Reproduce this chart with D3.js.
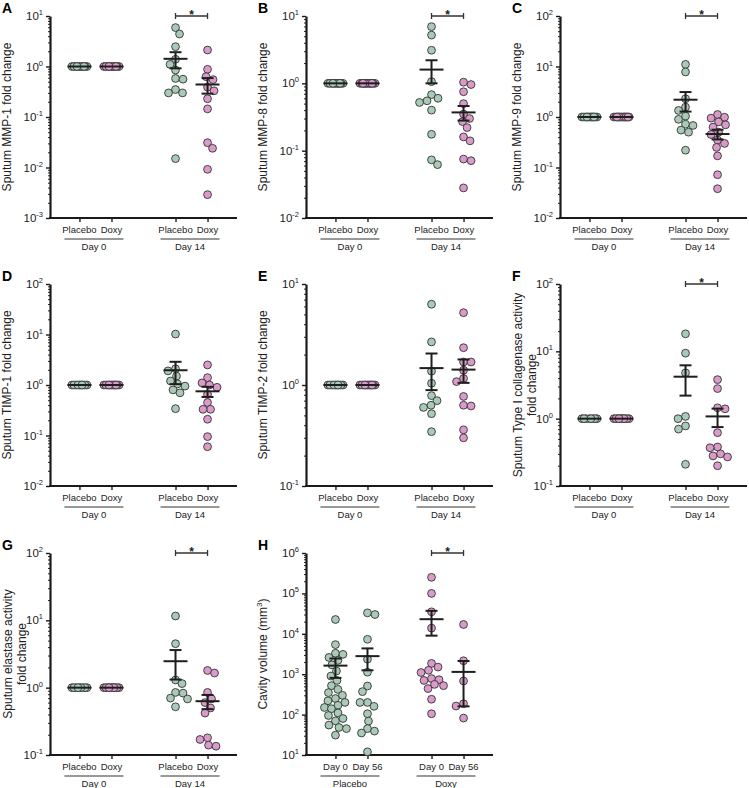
<!DOCTYPE html>
<html>
<head>
<meta charset="utf-8">
<script src="https://cdn.jsdelivr.net/npm/d3@7"></script>
<style>
  body { margin: 0; background: #fff; }
  svg text { font-family: "Liberation Sans", Arial, Helvetica, sans-serif; fill: #222; }
</style>
</head>
<body>
<svg id="chart" width="749" height="788"></svg>
<script>
// categories
const dayCats = ['Placebo', 'Doxy', 'Placebo', 'Doxy'];
const dayGroups = ['Day 0', 'Day 14'];
const cavCats = ['Day 0', 'Day 56', 'Day 0', 'Day 56'];
const cavGroups = ['Placebo', 'Doxy'];

const green = '#a9cab6';
const pink = '#da9bca';

// A - MMP-1
const mmp1 = [
  [1, 1, 1, 1, 1, 1, 1, 1, 1, 1, 1, 1],
  [1, 1, 1, 1, 1, 1, 1, 1, 1, 1, 1, 1],
  [5.9, 4.4, 2.47, 1.39, 1.1, 0.85, 0.58, 0.56, 0.35, 0.30, 0.30, 0.015],
  [2.12, 0.88, 0.63, 0.55, 0.39, 0.33, 0.23, 0.145, 0.031, 0.024, 0.0092, 0.0029]
];
const mmp1Mean = [1, 1, 1.42, 0.44];
const mmp1Sem = [0, 0, 0.5, 0.15];

// B - MMP-8
const mmp8 = [
  [1, 1, 1, 1, 1, 1, 1, 1, 1, 1, 1, 1],
  [1, 1, 1, 1, 1, 1, 1, 1, 1, 1, 1, 1, 1],
  [6.95, 5.2, 3.1, 1.06, 0.68, 0.6, 0.55, 0.52, 0.40, 0.175, 0.073, 0.062],
  [1.04, 0.96, 0.75, 0.5, 0.35, 0.3, 0.27, 0.22, 0.16, 0.14, 0.075, 0.071, 0.028]
];
const mmp8Mean = [1, 1, 1.6, 0.37];
const mmp8Sem = [0, 0, 0.6, 0.09];

// C - MMP-9
const mmp9 = [
  [1, 1, 1, 1, 1, 1, 1, 1, 1, 1, 1, 1],
  [1, 1, 1, 1, 1, 1, 1, 1, 1, 1, 1, 1, 1, 1],
  [11, 7.8, 2.3, 1.57, 1.35, 1.04, 0.9, 0.72, 0.68, 0.55, 0.5, 0.22],
  [1.12, 0.99, 0.95, 0.8, 0.7, 0.63, 0.5, 0.45, 0.35, 0.3, 0.25, 0.17, 0.072, 0.038]
];
const mmp9Mean = [1, 1, 2.2, 0.46];
const mmp9Sem = [0, 0, 0.92, 0.1];

// D - TIMP-1
const timp1 = [
  [1, 1, 1, 1, 1, 1, 1, 1, 1, 1],
  [1, 1, 1, 1, 1, 1, 1, 1, 1, 1, 1, 1],
  [10.2, 2.1, 1.9, 1.5, 1.2, 1.05, 0.95, 0.8, 0.7, 0.34],
  [2.5, 1.4, 1.1, 1.0, 0.9, 0.65, 0.45, 0.33, 0.33, 0.21, 0.095, 0.06]
];
const timp1Mean = [1, 1, 1.96, 0.75];
const timp1Sem = [0, 0, 0.92, 0.17];

// E - TIMP-2
const timp2 = [
  [1, 1, 1, 1, 1, 1, 1, 1, 1, 1],
  [1, 1, 1, 1, 1, 1, 1, 1, 1, 1, 1, 1],
  [6.3, 2.67, 1.37, 1.04, 0.785, 0.7, 0.63, 0.6, 0.52, 0.345],
  [5.2, 2.34, 1.69, 1.69, 1.4, 1.16, 1.08, 0.77, 0.63, 0.62, 0.36, 0.30]
];
const timp2Mean = [1, 1, 1.47, 1.42];
const timp2Sem = [0, 0, 0.58, 0.37];

// F - collagenase activity
const coll = [
  [1, 1, 1, 1, 1, 1, 1, 1],
  [1, 1, 1, 1, 1, 1, 1, 1, 1, 1, 1],
  [18.2, 9.4, 4.8, 1.08, 1.0, 0.78, 0.7, 0.21],
  [3.8, 2.8, 1.45, 1.4, 0.62, 0.38, 0.37, 0.3, 0.28, 0.27, 0.2]
];
const collMean = [1, 1, 4.2, 1.08];
const collSem = [0, 0, 2.0, 0.33];

// G - elastase activity
const elas = [
  [1, 1, 1, 1, 1, 1, 1, 1, 1],
  [1, 1, 1, 1, 1, 1, 1, 1, 1, 1, 1],
  [11.6, 4.5, 1.3, 1.15, 0.85, 0.83, 0.7, 0.68, 0.52],
  [1.8, 1.65, 0.85, 0.68, 0.6, 0.5, 0.42, 0.18, 0.17, 0.14, 0.135]
];
const elasMean = [1, 1, 2.47, 0.63];
const elasSem = [0, 0, 1.15, 0.15];

// H - cavity volume
const cavity = [
  [22600, 5400, 3300, 3100, 2600, 2200, 1700, 1200, 900, 700, 520, 420, 350, 300,
   250, 220, 200, 170, 150, 140, 110, 95, 80, 70, 55, 48, 45, 31],
  [33000, 30000, 7300, 2350, 1120, 510, 370, 200, 200, 160, 105, 69, 45, 39, 35, 12],
  [250000, 100000, 35000, 13800, 1850, 1500, 1250, 1100, 780, 730, 700, 560, 520, 440, 240, 105],
  [17000, 2150, 680, 186, 163, 82]
];
const cavityMean = [1630, 2800, 23000, 1140];
const cavitySem = [820, 1550, 14000, 980];

const panels = [
  { id: 'A', col: 0, row: 0, title: ['Sputum MMP-1 fold change'], domain: [1e-3, 10], vals: mmp1, mean: mmp1Mean, sem: mmp1Sem, cats: dayCats, groups: dayGroups, colors: [green, pink, green, pink], sig: true },
  { id: 'B', col: 1, row: 0, title: ['Sputum MMP-8 fold change'], domain: [1e-2, 10], vals: mmp8, mean: mmp8Mean, sem: mmp8Sem, cats: dayCats, groups: dayGroups, colors: [green, pink, green, pink], sig: true },
  { id: 'C', col: 2, row: 0, title: ['Sputum MMP-9 fold change'], domain: [1e-2, 100], vals: mmp9, mean: mmp9Mean, sem: mmp9Sem, cats: dayCats, groups: dayGroups, colors: [green, pink, green, pink], sig: true },
  { id: 'D', col: 0, row: 1, title: ['Sputum TIMP-1 fold change'], domain: [1e-2, 100], vals: timp1, mean: timp1Mean, sem: timp1Sem, cats: dayCats, groups: dayGroups, colors: [green, pink, green, pink], sig: false },
  { id: 'E', col: 1, row: 1, title: ['Sputum TIMP-2 fold change'], domain: [0.1, 10], vals: timp2, mean: timp2Mean, sem: timp2Sem, cats: dayCats, groups: dayGroups, colors: [green, pink, green, pink], sig: false },
  { id: 'F', col: 2, row: 1, title: ['Sputum Type I collagenase activity', 'fold change'], domain: [0.1, 100], vals: coll, mean: collMean, sem: collSem, cats: dayCats, groups: dayGroups, colors: [green, pink, green, pink], sig: true },
  { id: 'G', col: 0, row: 2, title: ['Sputum elastase activity', 'fold change'], domain: [0.1, 100], vals: elas, mean: elasMean, sem: elasSem, cats: dayCats, groups: dayGroups, colors: [green, pink, green, pink], sig: true },
  { id: 'H', col: 1, row: 2, title: ['Cavity volume (mm', '3', ')'], domain: [10, 1e6], vals: cavity, mean: cavityMean, sem: cavitySem, cats: cavCats, groups: cavGroups, colors: [green, green, pink, pink], sig: true, cavity: true }
];

// layout
const colX = [50, 306, 560];
const rowTop = [16, 284, 553];
const plotH = 202;
const axisLen = 187;
const R = 3.9;

const svg = d3.select('#chart');

// simple dodge so points at similar y spread sideways, capped at maxW
function swarm(vals, y, cx, maxW) {
  const idx = d3.range(vals.length).sort((a, b) => d3.descending(vals[a], vals[b]));
  const cands = d3.range(-maxW, maxW + 0.01, 0.5).sort((a, b) => Math.abs(a) - Math.abs(b) || a - b);
  const placed = [];
  const out = [];
  idx.forEach((i, n) => {
    const py = y(vals[i]);
    let best = 0, bestD = -1;
    for (const c0 of cands) {
      const c = n % 2 ? -c0 : c0;
      const dd = placed.length ? d3.min(placed, q => Math.hypot(q[0] - c, q[1] - py)) : Infinity;
      if (dd >= 2 * R * 0.95) { best = c; bestD = dd; break; }
      if (dd > bestD) { bestD = dd; best = c; }
    }
    placed.push([best, py]);
    out.push({ v: vals[i], x: cx + best, y: py });
  });
  return out;
}

panels.forEach(p => {
  const ax = colX[p.col];
  const top = rowTop[p.row];
  const bottom = top + plotH;
  const g = svg.append('g');

  const y = d3.scaleLog().domain(p.domain).range([bottom, top]);
  const x = d3.scalePoint().domain(['0', '1', 'gap', '2', '3']).range([ax, ax + axisLen]).padding(0.92);

  const lo = Math.round(Math.log10(p.domain[0]));
  const hi = Math.round(Math.log10(p.domain[1]));
  const majors = d3.range(lo, hi + 1).map(e => Math.pow(10, e));
  const minors = [];
  for (let e = lo; e < hi; e++) for (let k = 2; k < 10; k++) minors.push(k * Math.pow(10, e));

  // minor ticks
  g.append('g')
    .attr('transform', `translate(${ax},0)`)
    .call(d3.axisLeft(y).tickValues(minors).tickSize(2).tickSizeOuter(0).tickFormat(''))
    .call(s => s.select('.domain').remove())
    .call(s => s.selectAll('line').attr('stroke', '#222').attr('stroke-width', 1));

  // major ticks + axis line
  const yAx = g.append('g')
    .attr('transform', `translate(${ax},0)`)
    .call(d3.axisLeft(y).tickValues(majors).tickSize(4).tickSizeOuter(0).tickFormat(''));
  yAx.select('.domain').attr('stroke', '#1a1a1a').attr('stroke-width', 2.2);
  yAx.selectAll('.tick line').attr('stroke', '#1a1a1a').attr('stroke-width', 1.4);

  // tick labels 10^n
  majors.forEach(v => {
    const t = g.append('text')
      .attr('x', ax - 7)
      .attr('y', y(v) + 4)
      .attr('text-anchor', 'end')
      .attr('font-size', 11.5);
    t.append('tspan').text('10');
    t.append('tspan').attr('dy', -5).attr('font-size', 7.5).text(Math.round(Math.log10(v)));
  });

  // x axis
  const xAx = g.append('g')
    .attr('transform', `translate(0,${bottom})`)
    .call(d3.axisBottom(x).tickValues(['0', '1', '2', '3']).tickSize(4).tickSizeOuter(0).tickFormat(''));
  xAx.select('.domain').attr('stroke', '#1a1a1a').attr('stroke-width', 2.2)
    .attr('d', `M${ax - 1},0H${Math.min(ax + axisLen, 749)}`);
  xAx.selectAll('.tick line').attr('stroke', '#1a1a1a').attr('stroke-width', 1.4);

  // category labels
  ['0', '1', '2', '3'].forEach((k, i) => {
    g.append('text')
      .attr('x', x(k))
      .attr('y', bottom + 15)
      .attr('text-anchor', 'middle')
      .attr('font-size', 9.5)
      .text(p.cats[i]);
  });

  // group labels with underline
  [['0', '1'], ['2', '3']].forEach((pair, i) => {
    const x0 = x(pair[0]) - 15, x1 = x(pair[1]) + 12;
    g.append('line')
      .attr('x1', x0).attr('x2', x1)
      .attr('y1', bottom + 21).attr('y2', bottom + 21)
      .attr('stroke', '#333').attr('stroke-width', 1);
    g.append('text')
      .attr('x', (x0 + x1) / 2)
      .attr('y', bottom + 32)
      .attr('text-anchor', 'middle')
      .attr('font-size', 9.5)
      .text(p.groups[i]);
  });

  // y title
  const cy = (top + bottom) / 2;
  if (p.cavity) {
    const t = g.append('text')
      .attr('transform', `translate(${ax - 39},${cy}) rotate(-90)`)
      .attr('text-anchor', 'middle')
      .attr('font-size', 12);
    t.append('tspan').text(p.title[0]);
    t.append('tspan').attr('dy', -5).attr('font-size', 8).text(p.title[1]);
    t.append('tspan').attr('dy', 5).text(p.title[2]);
  } else if (p.title.length === 2) {
    p.title.forEach((line, i) => {
      g.append('text')
        .attr('transform', `translate(${ax - 38 + i * 14},${cy}) rotate(-90)`)
        .attr('text-anchor', 'middle')
        .attr('font-size', 12)
        .text(line);
    });
  } else {
    g.append('text')
      .attr('transform', `translate(${ax - 39},${cy}) rotate(-90)`)
      .attr('text-anchor', 'middle')
      .attr('font-size', 12)
      .text(p.title[0]);
  }

  // points
  ['0', '1', '2', '3'].forEach((k, i) => {
    const maxW = p.sem[i] === 0 ? 8 : 12;
    const pts = swarm(p.vals[i], y, x(k), maxW);
    g.append('g').selectAll('circle')
      .data(pts)
      .join('circle')
      .attr('cx', d => d.x)
      .attr('cy', d => d.y)
      .attr('r', R)
      .attr('fill', p.colors[i])
      .attr('stroke', '#333')
      .attr('stroke-width', 0.9);
  });

  // mean +/- SEM
  ['0', '1', '2', '3'].forEach((k, i) => {
    const cx = x(k);
    const m = p.mean[i], s = p.sem[i];
    const eg = g.append('g').attr('stroke', '#1e1e1e').attr('stroke-width', 2);
    eg.append('line').attr('x1', cx - 12).attr('x2', cx + 12).attr('y1', y(m)).attr('y2', y(m));
    if (s > 0) {
      const yHi = y(m + s);
      const yLo = y(Math.max(m - s, p.domain[0]));
      eg.append('line').attr('x1', cx).attr('x2', cx).attr('y1', yHi).attr('y2', yLo);
      eg.append('line').attr('x1', cx - 6).attr('x2', cx + 6).attr('y1', yHi).attr('y2', yHi);
      eg.append('line').attr('x1', cx - 6).attr('x2', cx + 6).attr('y1', yLo).attr('y2', yLo);
    }
  });

  // significance bracket
  if (p.sig) {
    const x0 = x('2'), x1 = x('3');
    const bg = g.append('g').attr('stroke', '#333').attr('stroke-width', 1.3);
    bg.append('line').attr('x1', x0).attr('x2', x1).attr('y1', top).attr('y2', top);
    bg.append('line').attr('x1', x0).attr('x2', x0).attr('y1', top - 3).attr('y2', top + 3);
    bg.append('line').attr('x1', x1).attr('x2', x1).attr('y1', top - 3).attr('y2', top + 3);
    g.append('text')
      .attr('x', (x0 + x1) / 2)
      .attr('y', top + 3)
      .attr('text-anchor', 'middle')
      .attr('font-size', 12)
      .attr('font-weight', 'bold')
      .text('*');
  }

  // panel letter
  g.append('text')
    .attr('x', ax - 48)
    .attr('y', top - 3)
    .attr('font-size', 14)
    .attr('font-weight', 'bold')
    .style('fill', '#000')
    .text(p.id);
});
</script>
</body>
</html>
